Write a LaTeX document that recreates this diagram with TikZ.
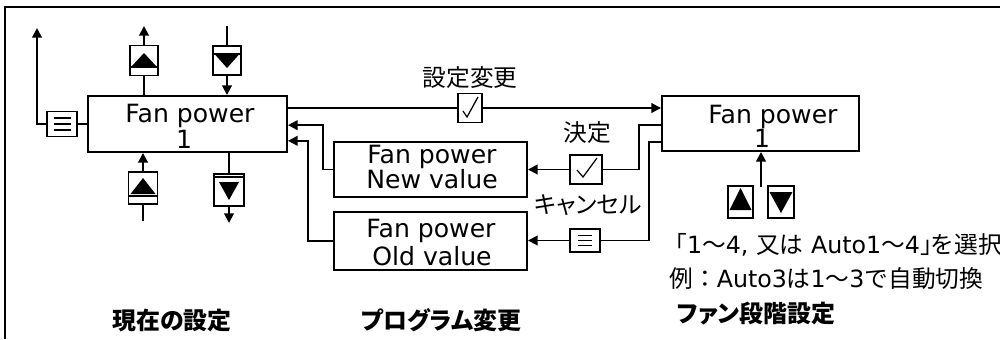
\documentclass[tikz,border=0pt]{standalone}
\usepackage{fontspec}
\setmainfont{DejaVu Sans}
\newfontfamily\jp{Noto Sans CJK JP}
\newfontfamily\jpp{Noto Sans CJK JP}[RawFeature=+palt]
\newfontfamily\lat{DejaVu Sans}
\usetikzlibrary{arrows.meta,calc}
\begin{document}
\begin{tikzpicture}[x=0.02cm,y=-0.02cm,
  sz/.style 2 args={minimum width=#1*0.02cm,minimum height=#2*0.02cm},
  box/.style={draw,line width=1.1pt,inner sep=0pt},
  con/.style={line width=1.1pt},
  arr/.style={con,-{Triangle[length=5.5pt,width=5.5pt]}},
  thin/.style={line width=0.7pt},
  lat/.style={inner sep=0pt,anchor=base,font=\fontsize{14.3}{17}\selectfont},
  jpt/.style={inner sep=0pt,font=\jp\fontsize{13.5}{16}\selectfont},
  jpk/.style={inner sep=0pt,font=\jpp\fontsize{13.5}{16}\selectfont},
  jph/.style={inner sep=0pt,font=\jpp\bfseries\fontsize{13.6}{16}\selectfont},
]
\useasboundingbox (0,0) rectangle (1000,339);
% frame
\draw[con] (5,339) -- (5,7) -- (1000,7);

% main boxes
\node[box,sz={199}{56}] (L) at (187.5,124) {};
\node[box,sz={197}{55}] (R) at (760.5,123.5) {};
\node[box,sz={193}{55}] (N) at (430.5,169.5) {};
\node[box,sz={193}{58}] (O) at (430.5,241) {};

% texts in boxes
\node[lat] (Lt1) at (190,122) {Fan power};
\node[lat] (Lt2) at (184,148) {1};
\node[lat] (Rt1) at (773,123) {Fan power};
\node[lat] (Rt2) at (762,147) {1};
\node[lat] (Nt1) at (432,163) {Fan power};
\node[lat] (Nt2) at (432,188) {New value};
\node[lat] (Ot1) at (431,237) {Fan power};
\node[lat] (Ot2) at (432,265) {Old value};

% icons
\node[box,sz={30}{25}] (mL) at (62,124) {};
\node[box,sz={28}{30}] (u1) at (144,60.5) {};
\node[box,sz={28}{29}] (d1) at (227,60.5) {};
\node[box,sz={29}{32}] (u2) at (143,188) {};
\node[box,sz={30}{32}] (d2) at (229,190) {};
\node[box,sz={24}{29}] (k1) at (470,108) {};
\node[box,sz={32}{29}] (k2) at (586,169.5) {};
\node[box,sz={30}{23}] (mM) at (585,240.5) {};
\node[box,sz={25}{32}] (uR) at (740.5,202) {};
\node[box,sz={26}{32}] (dR) at (781,202) {};

% icon internals
\foreach \dy in {-6,0,6} \draw[thin] ([shift={(-8.5,\dy)}]mL.center) -- ([shift={(8.5,\dy)}]mL.center);
\foreach \dy in {-5,0,5} \draw[thin] ([shift={(-7,\dy)}]mM.center) -- ([shift={(7,\dy)}]mM.center);
\draw[con] ([shift={(-14,6.5)}]u1.center) -- ([shift={(14,6.5)}]u1.center);
\fill ([shift={(-12.5,6)}]u1.center) -- ([shift={(12.5,6)}]u1.center) -- ([shift={(0,-7.5)}]u1.center) -- cycle;
\draw[con] ([shift={(-14.5,-6.5)}]d1.center) -- ([shift={(14.5,-6.5)}]d1.center);
\fill ([shift={(-12,-6)}]d1.center) -- ([shift={(12,-6)}]d1.center) -- ([shift={(0,7.5)}]d1.center) -- cycle;
\draw[con] ([shift={(-14.5,8)}]u2.center) -- ([shift={(14.5,8)}]u2.center);
\fill ([shift={(-12.5,6)}]u2.center) -- ([shift={(12.5,6)}]u2.center) -- ([shift={(0,-10)}]u2.center) -- cycle;
\draw[con] ([shift={(-15,-13)}]d2.center) -- ([shift={(15,-13)}]d2.center);
\fill ([shift={(-10,-8)}]d2.center) -- ([shift={(10,-8)}]d2.center) -- ([shift={(0,10)}]d2.center) -- cycle;
\fill ([shift={(-11,8)}]uR.center) -- ([shift={(11,8)}]uR.center) -- ([shift={(0,-14)}]uR.center) -- cycle;
\fill ([shift={(-11.5,-10)}]dR.center) -- ([shift={(11.5,-10)}]dR.center) -- ([shift={(0,11)}]dR.center) -- cycle;
\draw[thin] ([shift={(-7,3)}]k1.center) -- ([shift={(-3,9)}]k1.center) -- ([shift={(8,-11)}]k1.center);
\draw[thin] ([shift={(-9,0.5)}]k2.center) -- ([shift={(-3,7.5)}]k2.center) -- ([shift={(11,-11.5)}]k2.center);

% coordinates
\coordinate (tL) at (37,28);
\coordinate (tU1) at (144,26);
\coordinate (tD1) at (227,26);
\coordinate (bU2) at (143,221);
\coordinate (bD2) at (229,223);
\coordinate (bR) at (761,187);
\coordinate (r1) at ($(R.north west)!0.52!(R.south west)$);
\coordinate (r2) at ($(R.north west)!0.82!(R.south west)$);
\coordinate (l1) at ($(L.north east)!0.52!(L.south east)$);
\coordinate (l2) at ($(L.north east)!0.79!(L.south east)$);

% connectors
\draw[con] (L.west) -- (mL.east);
\draw[arr] (mL.west) -| (tL);
\draw[con] (L.north -| u1) -- (u1.south);
\draw[arr] (u1.north) -- (tU1);
\draw[con] (tD1) -- (d1.north);
\draw[arr] (d1.south) -- (L.north -| d1);
\draw[con] (bU2) -- (u2.south);
\draw[arr] (u2.north) -- (L.south -| u2);
\draw[con] (L.south -| d2) -- (d2.north);
\draw[arr] (d2.south) -- (bD2);
\draw[con] (L.east |- k1) -- (k1.west);
\draw[arr] (k1.east) -- (R.west |- k1);
\draw[con] (r1) -| ($(k2.east)+(36,0)$) -- (k2.east);
\draw[arr] (k2.west) -- (N.east |- k2.west);
\draw[con] (r2) -| ($(mM.east)+(48,0)$) -- (mM.east);
\draw[arr] (mM.west) -- (O.east |- mM.west);
\draw[arr] (N.west) -- ++(-10,0) |- (l1);
\draw[arr] (O.west) -- ++(-25,0) |- (l2);
\draw[arr] (bR) -- (R.south -| bR);

% labels
\node[jpt] (s1) at (470,78) {設定変更};
\node[jpt] (s2) at (587,133) {決定};
\node[jpk] (s3) at (588,205) {キャンセル};
\node[jpt,anchor=west] (n1) at (663,245) {「{\lat 1}～{\lat 4,\ }又は{\lat\ Auto1}～{\lat 4}」\kern-0.55em を選択};
\node[jpt,anchor=west] (n2) at (669,279) {例：{\lat Auto3}は{\lat 1}～{\lat 3}で自動切換};
\node[jph] (h1) at (172,320) {現在の設定};
\node[jph] (h2) at (441,320) {プログラム変更};
\node[jph] (h3) at (756,314) {ファン段階設定};
\end{tikzpicture}
\end{document}
